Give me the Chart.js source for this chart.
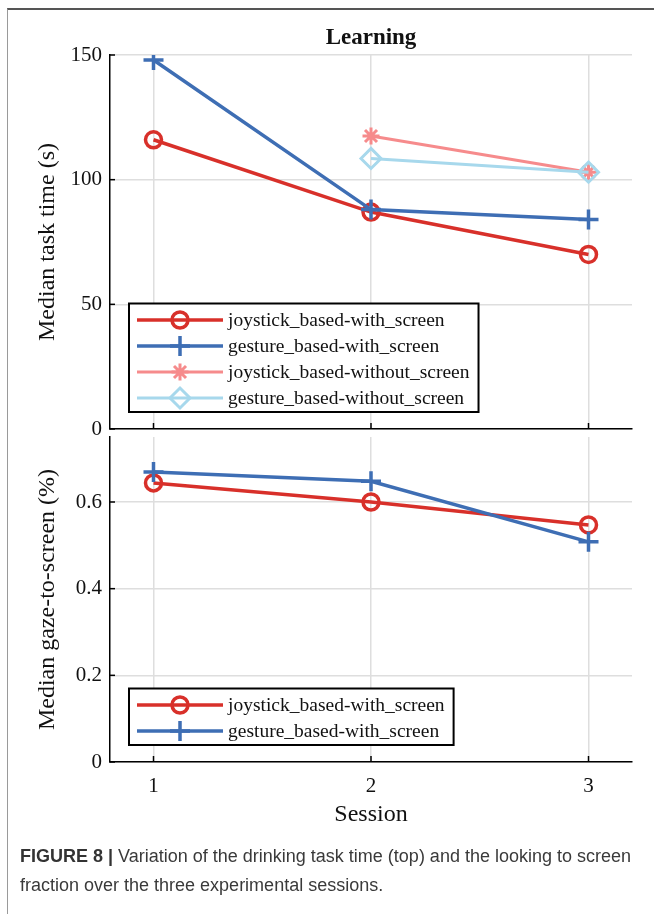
<!DOCTYPE html>
<html>
<head>
<meta charset="utf-8">
<script src="https://cdn.jsdelivr.net/npm/chart.js@4.4.0/dist/chart.umd.min.js"></script>
<style>
  body { margin: 0; background: #fff; width: 654px; height: 914px; position: relative; overflow: hidden; }
  #frame { position: absolute; left: 7px; top: 8px; right: 0; bottom: 0; border-left: 1px solid #9a9a9a; border-top: 2px solid #555; }
  .panel { position: absolute; left: 0; width: 654px; }
  #top { top: 0; height: 450px; }
  #bottom { top: 415px; height: 415px; }
  #caption { position: absolute; left: 20px; top: 842px; width: 634px; font: 18px "Liberation Sans", Arial, sans-serif; line-height: 29px; color: #3a3a3a; white-space: nowrap; }
  #caption b { color: #333; }
</style>
</head>
<body>
<div id="frame"></div>
<div class="panel" id="top"><canvas id="taskChart"></canvas></div>
<div class="panel" id="bottom"><canvas id="gazeChart"></canvas></div>
<div id="caption"><b>FIGURE 8 |</b> Variation of the drinking task time (top) and the looking to screen<br>fraction over the three experimental sessions.</div>

<script>
// Data
const sessions = [1, 2, 3];
const taskJoystickScreen = [116, 87, 70];
const taskGestureScreen = [148, 88, 84];
const taskJoystickNoScreen = [null, 117.5, 103];
const taskGestureNoScreen = [null, 108.5, 103];
const gazeJoystickScreen = [0.644, 0.600, 0.547];
const gazeGestureScreen = [0.669, 0.648, 0.508];
const taskTicks = [0, 50, 100, 150];
const gazeTicks = [0, 0.2, 0.4, 0.6];

const SERIF = '"Liberation Serif", "Times New Roman", serif';
const GRID = '#dedede';

// Series looks
const looks = {
  joyScreen: { color: '#d8302a', pointStyle: 'circle', radius: 8, width: 3.5 },
  gesScreen: { color: '#3e6eb4', pointStyle: 'cross', radius: 10, width: 3.5 },
  joyNoScreen: { color: '#f68b8c', pointStyle: 'star', radius: 8.5, width: 3 },
  gesNoScreen: { color: '#a7d8ec', pointStyle: 'rectRot', radius: 10, width: 3 }
};

function makeDataset(label, values, look, order) {
  return {
    label: label,
    data: sessions.map((s, i) => ({ x: s, y: values[i] })),
    borderColor: look.color,
    borderWidth: look.width,
    pointStyle: look.pointStyle,
    pointRadius: look.radius,
    pointHoverRadius: look.radius,
    pointBorderColor: look.color,
    pointBorderWidth: look.width,
    pointBackgroundColor: 'rgba(0,0,0,0)',
    tension: 0,
    order: order
  };
}

// Ticks pointing into the plot, MATLAB style
const innerTicks = {
  id: 'innerTicks',
  afterDatasetsDraw(chart) {
    const { ctx, chartArea, scales } = chart;
    ctx.save();
    ctx.strokeStyle = '#000';
    ctx.lineWidth = 1.5;
    scales.y.ticks.forEach(t => {
      const py = scales.y.getPixelForValue(t.value);
      ctx.beginPath(); ctx.moveTo(chartArea.left, py); ctx.lineTo(chartArea.left + 5, py); ctx.stroke();
    });
    scales.x.ticks.forEach(t => {
      const px = scales.x.getPixelForValue(t.value);
      ctx.beginPath(); ctx.moveTo(px, chartArea.bottom); ctx.lineTo(px, chartArea.bottom - 6); ctx.stroke();
    });
    ctx.restore();
  }
};

// Boxed legend in the lower left of the plot
const boxLegend = {
  id: 'boxLegend',
  afterDraw(chart) {
    const { ctx, chartArea } = chart;
    const sets = chart.data.datasets;
    ctx.save();
    ctx.font = '19.5px ' + SERIF;
    const textW = Math.max(...sets.map(d => ctx.measureText(d.label).width));
    const rowH = 26;
    const w = 99 + textW + 9;
    const h = 16.5 + rowH * (sets.length - 1) + 14;
    const x0 = chartArea.left + 19;
    const y0 = chartArea.bottom - 17 - h;
    ctx.fillStyle = '#fff';
    ctx.fillRect(x0, y0, w, h);
    ctx.strokeStyle = '#000';
    ctx.lineWidth = 2;
    ctx.strokeRect(x0, y0, w, h);
    sets.forEach((d, i) => {
      const cy = y0 + 16.5 + i * rowH;
      ctx.strokeStyle = d.borderColor;
      ctx.lineWidth = d.borderWidth;
      ctx.beginPath(); ctx.moveTo(x0 + 8, cy); ctx.lineTo(x0 + 94, cy); ctx.stroke();
      ctx.fillStyle = 'rgba(0,0,0,0)';
      ctx.lineWidth = d.pointBorderWidth;
      Chart.helpers.drawPoint(ctx, { pointStyle: d.pointStyle, radius: d.pointRadius, borderWidth: d.pointBorderWidth, rotation: 0 }, x0 + 51, cy);
      ctx.fillStyle = '#111';
      ctx.textBaseline = 'middle';
      ctx.textAlign = 'left';
      ctx.fillText(d.label, x0 + 99, cy + 1);
    });
    ctx.restore();
  }
};

function xScale(showLabels) {
  return {
    type: 'linear',
    min: 0.8,
    max: 3.2,
    afterBuildTicks: s => { s.ticks = sessions.map(v => ({ value: v })); },
    ticks: { display: showLabels, color: '#111', font: { family: SERIF, size: 21 }, padding: 12 },
    grid: { color: GRID, lineWidth: 1.5, drawTicks: false },
    border: { color: '#000', width: 1.5 },
    title: { display: showLabels, text: 'Session', color: '#111', font: { family: SERIF, size: 24 }, padding: { top: 0, bottom: 0.6 } },
    afterFit: s => { s.height = showLabels ? 68 : 21; }
  };
}

function yScale(max, tickValues, label) {
  return {
    min: 0,
    max: max,
    afterBuildTicks: s => { s.ticks = tickValues.map(v => ({ value: v })); },
    ticks: { color: '#111', font: { family: SERIF, size: 21 }, padding: 8 },
    grid: { color: GRID, lineWidth: 1.5, drawTicks: false },
    border: { color: '#000', width: 1.5 },
    title: { display: true, text: label, color: '#111', font: { family: SERIF, size: 24 }, padding: { top: 33.6, bottom: 0 } },
    afterFit: s => { s.width = 110; }
  };
}

const taskChart = new Chart(document.getElementById('taskChart'), {
  type: 'line',
  data: {
    datasets: [
      makeDataset('joystick_based-with_screen', taskJoystickScreen, looks.joyScreen, 4),
      makeDataset('gesture_based-with_screen', taskGestureScreen, looks.gesScreen, 3),
      makeDataset('joystick_based-without_screen', taskJoystickNoScreen, looks.joyNoScreen, 2),
      makeDataset('gesture_based-without_screen', taskGestureNoScreen, looks.gesNoScreen, 1)
    ]
  },
  options: {
    responsive: true,
    maintainAspectRatio: false,
    animation: false,
    events: [],
    layout: { padding: { left: 0, right: 22, top: 0, bottom: 0 } },
    plugins: {
      legend: { display: false },
      tooltip: { enabled: false },
      title: {
        display: true,
        text: 'Learning',
        fullSize: false,
        color: '#111',
        font: { family: SERIF, size: 23, weight: 'bold' },
        padding: { top: 24, bottom: 3.4 }
      }
    },
    scales: {
      x: xScale(false),
      y: yScale(150, taskTicks, 'Median task time (s)')
    }
  },
  plugins: [innerTicks, boxLegend]
});

const gazeChart = new Chart(document.getElementById('gazeChart'), {
  type: 'line',
  data: {
    datasets: [
      makeDataset('joystick_based-with_screen', gazeJoystickScreen, looks.joyScreen, 2),
      makeDataset('gesture_based-with_screen', gazeGestureScreen, looks.gesScreen, 1)
    ]
  },
  options: {
    responsive: true,
    maintainAspectRatio: false,
    animation: false,
    events: [],
    layout: { padding: { left: 0, right: 22, top: 22, bottom: 0 } },
    plugins: {
      legend: { display: false },
      tooltip: { enabled: false }
    },
    scales: {
      x: xScale(true),
      y: yScale(0.75, gazeTicks, 'Median gaze-to-screen (%)')
    }
  },
  plugins: [innerTicks, boxLegend]
});
</script>
</body>
</html>
